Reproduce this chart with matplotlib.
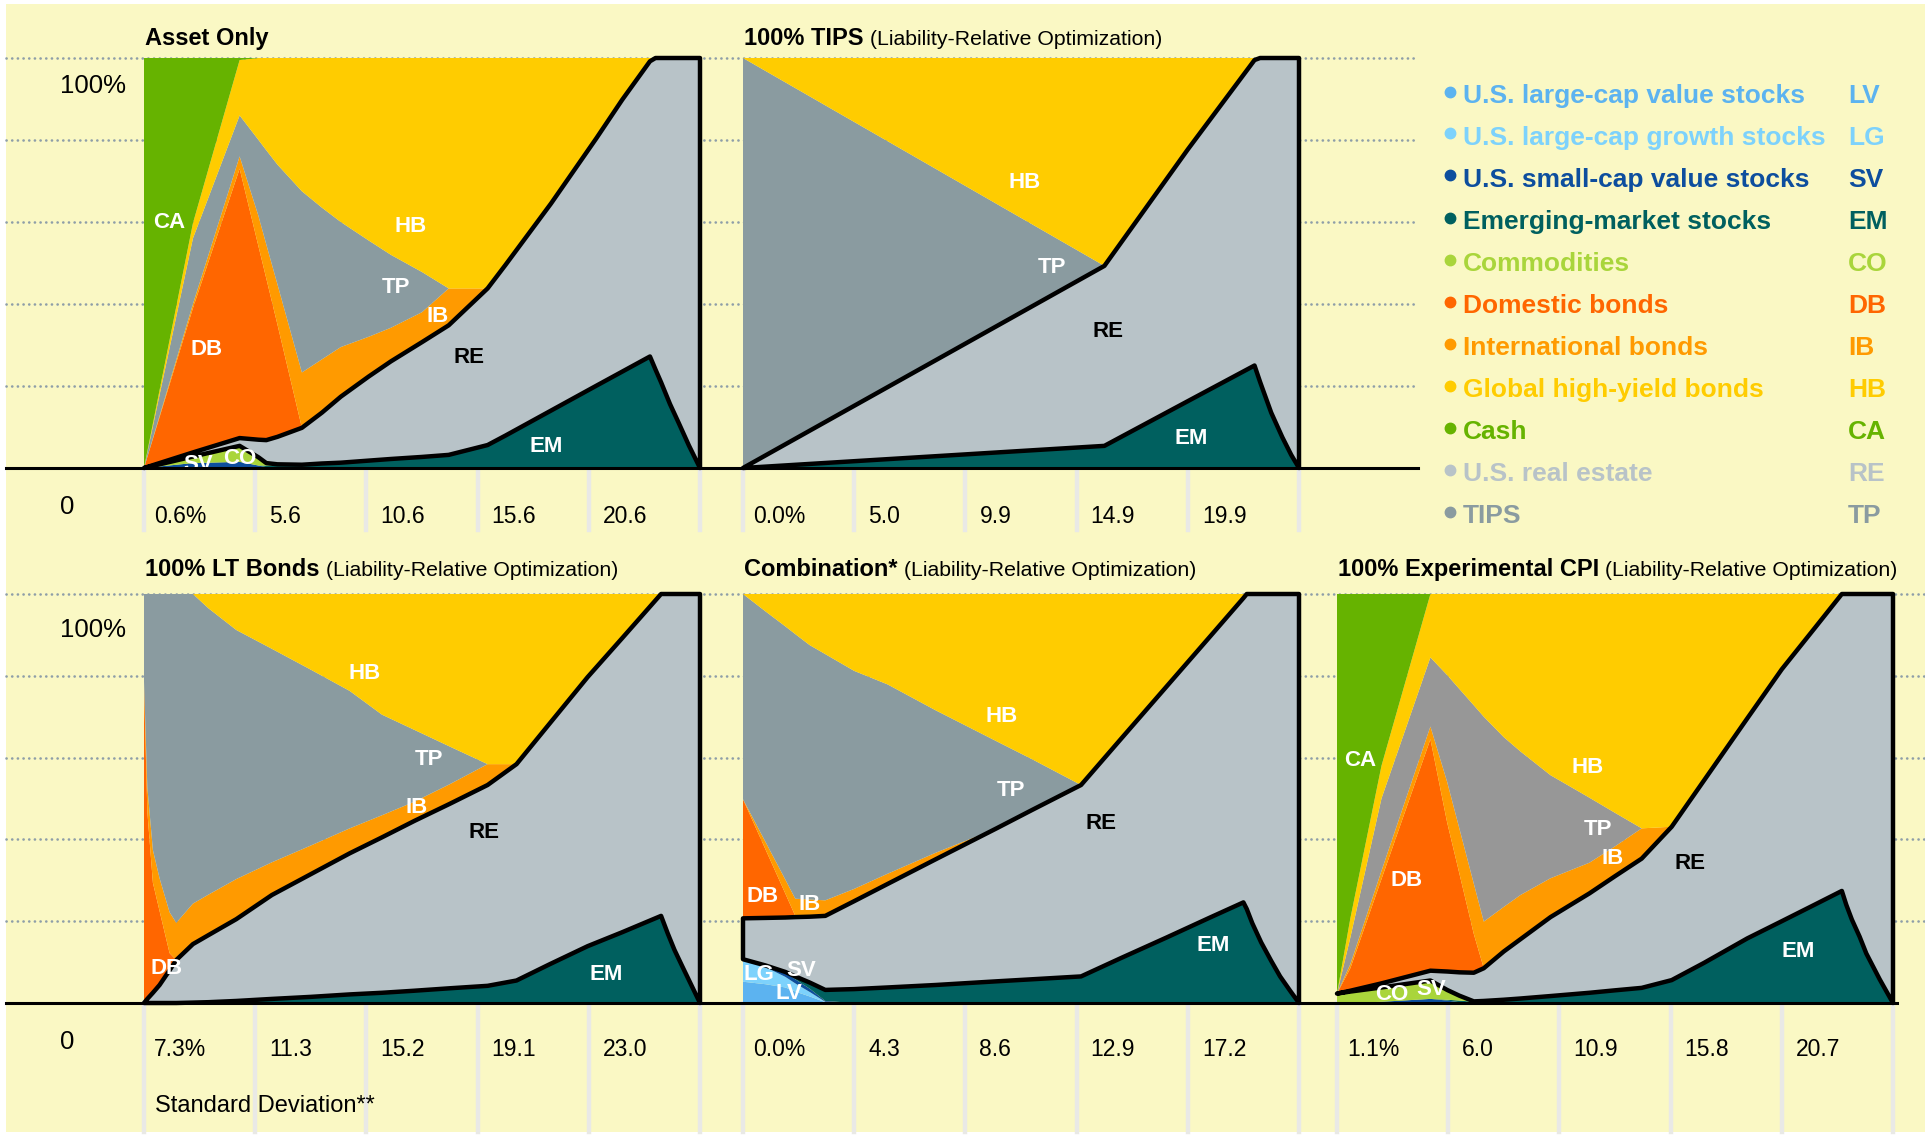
import matplotlib
matplotlib.use("Agg")
import matplotlib.pyplot as plt
from matplotlib.lines import Line2D
from matplotlib.patches import Rectangle
import numpy as np

W, H = 1925, 1136
FONT = "Liberation Sans"
BG = "#FAF8C4"

# stack order, bottom to top
codes = ["LV", "LG", "SV", "EM", "CO", "RE", "DB", "IB", "TP", "HB", "CA"]
colors = {"LV": "#5CB3F0", "LG": "#7DD2FC", "SV": "#0D4E9E", "EM": "#00605F",
          "CO": "#A9D53B", "RE": "#B8C3C8", "DB": "#FF6600", "IB": "#FF9A00",
          "TP": "#8A9BA0", "HB": "#FFCC00", "CA": "#66B300"}

legend_codes = ["LV", "LG", "SV", "EM", "CO", "DB", "IB", "HB", "CA", "RE", "TP"]
legend_names = ["U.S. large-cap value stocks", "U.S. large-cap growth stocks",
                "U.S. small-cap value stocks", "Emerging-market stocks", "Commodities",
                "Domestic bonds", "International bonds", "Global high-yield bonds",
                "Cash", "U.S. real estate", "TIPS"]

# ---- Asset Only ----
x1 = [0, 0.44, 0.86, 1.03, 1.1, 1.2, 1.42, 1.6, 1.77, 2.02, 2.22, 2.5, 2.74, 3.09,
      3.25, 3.66, 4.07, 4.3, 4.55, 4.6, 4.65, 4.73, 4.81, 4.9, 5.0]
asset_only = {
    "SV": [0, 1.2, 1.5, 0.6, 0.2, 0, 0, 0, 0, 0, 0, 0, 0, 0, 0, 0, 0, 0, 0, 0, 0, 0, 0, 0, 0],
    "EM": [0, 0, 0, 0, 0.4, 0.7, 0.8, 1.1, 1.3, 1.8, 2.2, 2.7, 3.2, 5.6, 7.9, 14, 20.1, 23.5,
           27.2, 24, 20.9, 15.6, 10.9, 5.5, 0],
    "CO": [0, 1.6, 3.9, 2.0, 0.6, 0.2, 0, 0, 0, 0, 0, 0, 0, 0, 0, 0, 0, 0, 0, 0, 0, 0, 0, 0, 0],
    "RE": [0, 1.0, 1.9, 4.3, 5.6, 6.7, 9.0, 12.4, 16.1, 20.5, 23.8, 28, 31.6, 38.2, 41.6, 50.5,
           60.4, 66.3, 72, 76, 79.1, 84.4, 89.1, 94.5, 100],
    "DB": [0, 35.2, 65.7, 47.1, 39.4, 27.4, 0, 0, 0, 0, 0, 0, 0, 0, 0, 0, 0, 0, 0, 0, 0, 0, 0, 0, 0],
    "IB": [0, 1.0, 3.0, 7.4, 8.3, 9.8, 13.5, 13, 12.1, 9.7, 8.2, 7.3, 9, 0, 0, 0, 0, 0, 0, 0, 0,
           0, 0, 0, 0],
    "TP": [0, 16, 10, 18.6, 23, 29.2, 44.2, 37, 30.5, 23.5, 17.8, 9.8, 0, 0, 0, 0, 0, 0, 0, 0, 0,
           0, 0, 0, 0],
    "HB": [0, 3.7, 13.5, 20, 22.5, 26, 32.5, 36.5, 40, 44.5, 48, 52.2, 56.2, 56.2, 50.5, 35.5,
           19.5, 10.2, 0.8, 0, 0, 0, 0, 0, 0],
    "CA": [100, 40.3, 0.5, 0, 0, 0, 0, 0, 0, 0, 0, 0, 0, 0, 0, 0, 0, 0, 0, 0, 0, 0, 0, 0, 0],
}

# ---- 100% TIPS ----
x2 = [0, 3.25, 4.0, 4.6, 4.65, 4.75, 4.85, 4.93, 5.0]
tips = {
    "EM": [0, 5.4, 16.3, 25, 21, 13.5, 7.5, 3.2, 0],
    "RE": [0, 43.9, 61.4, 74.5, 79, 86.5, 92.5, 96.8, 100],
    "TP": [100, 0, 0, 0, 0, 0, 0, 0, 0],
    "HB": [0, 50.7, 22.3, 0.5, 0, 0, 0, 0, 0],
}

# ---- 100% LT Bonds ----
x3 = [0, 0.03, 0.08, 0.14, 0.23, 0.29, 0.44, 0.58, 0.83, 1.15, 1.5, 1.85, 2.14, 2.43, 2.75,
      3.09, 3.35, 3.65, 3.99, 4.3, 4.65, 4.71, 4.77, 4.84, 4.92, 5.0]
lt_bonds = {
    "EM": [0, 0, 0, 0, 0, 0, 0.1, 0.2, 0.5, 1, 1.5, 2.1, 2.5, 3, 3.6, 4.2, 5.5, 9.5, 13.9, 17.3,
           21.3, 17, 13, 9, 4.5, 0],
    "RE": [0, 1, 2.5, 4.4, 8, 10.5, 14.3, 16.4, 20, 25.4, 30, 34.5, 38, 41.5, 45.1, 49.1, 52.9,
           58.9, 65.8, 71.9, 78.7, 83, 87, 91, 95.5, 100],
    "DB": [77.6, 45.8, 26.9, 18.1, 4.2, 0, 0, 0, 0, 0, 0, 0, 0, 0, 0, 0, 0, 0, 0, 0, 0, 0, 0, 0, 0, 0],
    "IB": [1, 6, 8, 8, 10, 9.1, 9.9, 9.9, 9.8, 8, 7, 6.1, 5.4, 4.7, 4.8, 5.1, 0, 0, 0, 0, 0, 0,
           0, 0, 0, 0],
    "TP": [21.4, 47.2, 62.6, 69.5, 77.8, 80.4, 75.7, 70, 60.9, 52.2, 43, 33.6, 24.6, 17.6, 9.2,
           0, 0, 0, 0, 0, 0, 0, 0, 0, 0, 0],
    "HB": [0, 0, 0, 0, 0, 0, 0, 3.5, 8.8, 13.4, 18.5, 23.7, 29.5, 33.2, 37.3, 41.6, 41.6, 31.6,
           20.3, 10.8, 0, 0, 0, 0, 0, 0],
}

# ---- Combination ----
x4 = [0, 0.2, 0.38, 0.47, 0.6, 0.74, 1.0, 1.3, 1.73, 2.28, 2.6, 3.04, 3.4, 3.8, 4.2, 4.5,
      4.53, 4.58, 4.66, 4.75, 4.83, 4.92, 5.0]
combination = {
    "LV": [5.2, 4.6, 3.8, 2.8, 1.6, 0.2, 0, 0, 0, 0, 0, 0, 0, 0, 0, 0, 0, 0, 0, 0, 0, 0, 0],
    "LG": [5.5, 4.2, 2.6, 2.0, 1.1, 0.1, 0, 0, 0, 0, 0, 0, 0, 0, 0, 0, 0, 0, 0, 0, 0, 0, 0],
    "SV": [0, 0.3, 1.0, 1.0, 0.8, 0.2, 0, 0, 0, 0, 0, 0, 0, 0, 0, 0, 0, 0, 0, 0, 0, 0, 0],
    "EM": [0, 0.1, 0.2, 0.7, 1.5, 2.7, 3.4, 3.8, 4.4, 5.3, 5.8, 6.5, 11, 15.9, 20.9, 24.6, 23,
           19.5, 14.8, 10.3, 6.5, 3, 0],
    "RE": [10, 11.6, 13.3, 14.5, 16.1, 18.1, 21.5, 25.3, 30.7, 37.4, 41.4, 46.8, 53.6, 61.2,
           68.7, 74.4, 77, 80.5, 85.2, 89.7, 93.5, 97, 100],
    "DB": [29.1, 16.9, 5.9, 0.3, 0, 0, 0, 0, 0, 0, 0, 0, 0, 0, 0, 0, 0, 0, 0, 0, 0, 0, 0],
    "IB": [0, 1.8, 3.4, 4.2, 4.2, 3.8, 3.0, 2.5, 1.6, 0, 0, 0, 0, 0, 0, 0, 0, 0, 0, 0, 0, 0, 0],
    "TP": [50.2, 56.3, 61.9, 64.7, 62.2, 60.2, 53.3, 46.3, 34.9, 21.3, 12.4, 0, 0, 0, 0, 0, 0,
           0, 0, 0, 0, 0, 0],
    "HB": [0, 4.2, 7.9, 9.8, 12.5, 14.7, 18.8, 22.1, 28.4, 36, 40.4, 46.7, 35.4, 22.9, 10.4, 1,
           0, 0, 0, 0, 0, 0, 0],
}

# ---- 100% Experimental CPI ----
x5 = [0, 0.12, 0.4, 0.84, 0.99, 1.1, 1.23, 1.32, 1.5, 1.65, 1.92, 2.27, 2.5, 2.74, 3.01, 3.3,
      3.69, 4.0, 4.3, 4.54, 4.58, 4.63, 4.7, 4.76, 4.88, 5.0]
cpi = {
    "SV": [0, 0, 0.3, 1.0, 0.6, 0.2, 0, 0, 0, 0, 0, 0, 0, 0, 0, 0, 0, 0, 0, 0, 0, 0, 0, 0, 0, 0],
    "EM": [0, 0, 0, 0, 0.2, 0.4, 0.3, 0.5, 0.8, 1.1, 1.7, 2.5, 3.1, 3.7, 5.6, 9.8, 15.8, 20,
           24.1, 27.4, 24, 20.4, 16.2, 12.1, 5.8, 0],
    "CO": [2.3, 2.8, 3.5, 4.5, 2.4, 1.2, 0.1, 0, 0, 0, 0, 0, 0, 0, 0, 0, 0, 0, 0, 0, 0, 0, 0, 0, 0, 0],
    "RE": [0, 0.2, 1.0, 2.4, 4.5, 5.7, 7.0, 8.0, 11.8, 14.5, 19.3, 24.3, 27.9, 31.6, 37.5, 44.6,
           53.8, 61.6, 67.7, 72.6, 76, 79.6, 83.8, 87.9, 94.2, 100],
    "DB": [0, 5.5, 25.5, 56.6, 36.5, 24.2, 9.5, 0, 0, 0, 0, 0, 0, 0, 0, 0, 0, 0, 0, 0, 0, 0, 0, 0, 0, 0],
    "IB": [0, 1.0, 2.0, 3.1, 9.9, 11, 12.3, 11.4, 10.9, 10.8, 9.5, 7.5, 7.3, 7.4, 0, 0, 0, 0, 0,
           0, 0, 0, 0, 0, 0, 0],
    "TP": [0, 6.5, 17.7, 16.9, 26.1, 34.1, 43.6, 50.1, 41.5, 35.1, 25.2, 15.9, 8.2, 0, 0, 0, 0,
           0, 0, 0, 0, 0, 0, 0, 0, 0],
    "HB": [0, 4.7, 8, 15.5, 19.8, 23.2, 27.2, 30, 35, 38.5, 44.3, 49.8, 53.5, 57.3, 56.9, 45.6,
           30.4, 18.4, 8.2, 0, 0, 0, 0, 0, 0, 0],
    "CA": [97.7, 79.3, 42, 0, 0, 0, 0, 0, 0, 0, 0, 0, 0, 0, 0, 0, 0, 0, 0, 0, 0, 0, 0, 0, 0, 0],
}

ticks1 = ["0.6%", "5.6", "10.6", "15.6", "20.6"]
ticks2 = ["0.0%", "5.0", "9.9", "14.9", "19.9"]
ticks3 = ["7.3%", "11.3", "15.2", "19.1", "23.0"]
ticks4 = ["0.0%", "4.3", "8.6", "12.9", "17.2"]
ticks5 = ["1.1%", "6.0", "10.9", "15.8", "20.7"]

# label text, x, y (data units), colour
labels1 = [("CA", 0.23, 60, "w"), ("DB", 0.56, 29, "w"), ("HB", 2.4, 59, "w"),
           ("TP", 2.27, 44, "w"), ("IB", 2.64, 37, "w"), ("RE", 2.92, 27, "k"),
           ("EM", 3.62, 5.3, "w"), ("SV", 0.49, 0.8, "w"), ("CO", 0.86, 2.3, "w")]
labels2 = [("HB", 2.53, 69.7, "w"), ("TP", 2.78, 49, "w"), ("RE", 3.28, 33.4, "k"),
           ("EM", 4.03, 7.1, "w")]
labels3 = [("HB", 1.98, 80.5, "w"), ("TP", 2.56, 59.6, "w"), ("IB", 2.45, 47.8, "w"),
           ("RE", 3.06, 41.7, "k"), ("DB", 0.2, 8.5, "w"), ("EM", 4.16, 7, "w")]
labels4 = [("HB", 2.33, 70, "w"), ("TP", 2.41, 52, "w"), ("RE", 3.22, 44, "k"),
           ("DB", 0.18, 26, "w"), ("IB", 0.6, 24, "w"), ("EM", 4.23, 14, "w"),
           ("LG", 0.14, 7, "w"), ("SV", 0.52, 8, "w"), ("LV", 0.41, 2.3, "w")]
labels5 = [("CA", 0.21, 59.4, "w"), ("DB", 0.63, 30, "w"), ("HB", 2.25, 57.5, "w"),
           ("TP", 2.35, 42.4, "w"), ("IB", 2.48, 35.3, "w"), ("RE", 3.17, 34, "k"),
           ("EM", 4.15, 12.5, "w"), ("CO", 0.49, 2.0, "w"), ("SV", 0.85, 3.2, "w")]

panels = [
    (x1, asset_only, ticks1, labels1, "Asset Only", "", 144, 0, {}),
    (x2, tips, ticks2, labels2, "100% TIPS", " (Liability-Relative Optimization)", 743, 0, {}),
    (x3, lt_bonds, ticks3, labels3, "100% LT Bonds", " (Liability-Relative Optimization)", 144, 1, {}),
    (x4, combination, ticks4, labels4, "Combination*", " (Liability-Relative Optimization)", 743, 1, {}),
    (x5, cpi, ticks5, labels5, "100% Experimental CPI", " (Liability-Relative Optimization)", 1337, 1,
     {"TP": "#979797"}),
]

PW = 556
row_top = [58, 594]
row_bot = [468, 1003]
row_line_end = [1418, 1925]
row_vline_end = [530, 1132]
tick_base = [523, 1056]


def fx(px):
    return px / W


def fy(py):
    return 1 - py / H


fig = plt.figure(figsize=(W / 100, H / 100), dpi=100)
fig.patches.append(Rectangle((fx(6), fy(1132)), 1 - fx(6), fy(4) - fy(1132),
                             transform=fig.transFigure, facecolor=BG, edgecolor="none", zorder=-5))

# background dotted grid and zero lines
for r in range(2):
    for i in range(5):
        yy = row_top[r] + i * (row_bot[r] - row_top[r]) / 5
        fig.lines.append(Line2D([fx(6), fx(row_line_end[r])], [fy(yy), fy(yy)],
                                transform=fig.transFigure, color="#8E9EA8", lw=1.9,
                                linestyle=(0, (0.05, 2.1)), dash_capstyle="round", zorder=-3))
    fig.lines.append(Line2D([fx(6), fx(row_line_end[r] - 28 * r)], [fy(row_bot[r]), fy(row_bot[r])],
                            transform=fig.transFigure, color="black", lw=2.2, zorder=3))
    fig.text(fx(126), fy(93 + 544 * r), "100%", ha="right", va="baseline", fontsize=18.5,
             family=FONT)
    fig.text(fx(67), fy(514 + 535 * r), "0", ha="center", va="baseline", fontsize=18.5,
             family=FONT)

for (x, data, ticks, labels, t_bold, t_norm, left, r, override) in panels:
    ax = fig.add_axes([fx(left), fy(row_bot[r]), PW / W, (row_bot[r] - row_top[r]) / H])
    ax.set_xlim(0, 5)
    ax.set_ylim(0, 100)
    ax.axis("off")
    ax.patch.set_alpha(0)
    zeros = [0] * len(x)
    ys = [np.array(data.get(c, zeros), dtype=float) for c in codes]
    cols = [override.get(c, colors[c]) for c in codes]
    ax.stackplot(x, ys, colors=cols, lw=0)
    lb = sum(ys[:5])
    ub = lb + ys[5]
    outline = ax.fill_between(x, lb, ub, facecolor="none", edgecolor="black", lw=3.2,
                              zorder=5, clip_on=False)
    outline.set_joinstyle("round")
    for text, lx, ly, c in labels:
        ax.text(lx, ly, text, color="white" if c == "w" else "black", fontsize=16,
                fontweight="bold", family=FONT, ha="center", va="center", zorder=6,
                clip_on=True)

    # light vertical grid under panel and tick labels
    for k in range(6):
        px = left + k * PW / 5
        fig.lines.append(Line2D([fx(px), fx(px)], [fy(row_bot[r]), fy(row_vline_end[r])],
                                transform=fig.transFigure, color="#E9E9E6", lw=3.2, zorder=-2))
    for k, lab in enumerate(ticks):
        px = left + k * PW / 5 + (10 if k == 0 else 14)
        fig.text(fx(px), fy(tick_base[r]), lab, ha="left", va="baseline", fontsize=16.5,
                 family=FONT)

    # title
    ty = fy(45 if r == 0 else 576)
    tb = fig.text(fx(left + 1), ty, t_bold, ha="left", va="baseline", fontsize=17,
                  fontweight="bold", family=FONT)
    if t_norm:
        fig.canvas.draw()
        bb = tb.get_window_extent()
        fig.text(bb.x1 / W, ty, t_norm, ha="left", va="baseline", fontsize=15.3, family=FONT)

fig.text(fx(155), fy(1112), "Standard Deviation**", ha="left", va="baseline", fontsize=17,
         family=FONT)

# legend
for i, (c, name) in enumerate(zip(legend_codes, legend_names)):
    base = 103 + 42 * i
    col = colors[c]
    fig.lines.append(Line2D([fx(1450)], [fy(base - 11.5)], transform=fig.transFigure,
                            marker="o", markersize=7.5, color=col, lw=0))
    fig.text(fx(1463), fy(base), name, ha="left", va="baseline", fontsize=19,
             fontweight="bold", family=FONT, color=col)
    fig.text(fx(1848), fy(base), c, ha="left", va="baseline", fontsize=19,
             fontweight="bold", family=FONT, color=col)

fig.savefig("out.png", dpi=100, facecolor="white")
